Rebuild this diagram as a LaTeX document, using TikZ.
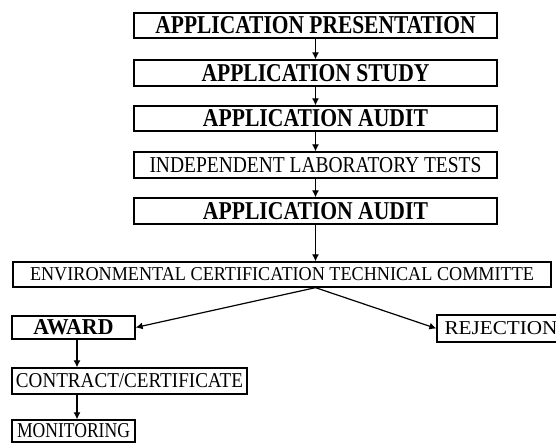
\documentclass[tikz,border=0pt]{standalone}
\usepackage{fontspec}
\setmainfont{Liberation Serif}
\usepackage{graphicx}
\usetikzlibrary{arrows.meta,positioning,calc}

% squeeze a label to the measured width and cap height
\newcommand{\fitlbl}[3]{\resizebox{#1pt}{#2pt}{#3}}

\tikzset{
  stage/.style={draw,line width=1.3pt,inner sep=0pt},
  flow/.style={line width=1.2pt,-{Latex[length=7pt,width=7pt]}}
}

\begin{document}
\begin{tikzpicture}[x=1pt,y=-1pt]
\useasboundingbox (0,0) rectangle (556,443);
% Application chain
\node[stage,minimum width=363pt,minimum height=25pt] (pres) at (315.5,25.5)
  {\fitlbl{320}{17}{\textbf{APPLICATION PRESENTATION}}};
\node[stage,minimum width=363pt,minimum height=26pt] (study) at (315.5,73)
  {\fitlbl{228}{17}{\textbf{APPLICATION STUDY}}};
\node[stage,minimum width=363pt,minimum height=25pt] (audita) at (315.5,118.5)
  {\fitlbl{225}{17}{\textbf{APPLICATION AUDIT}}};
\node[stage,minimum width=363pt,minimum height=26pt] (labtests) at (315.5,165)
  {\fitlbl{332}{15}{INDEPENDENT LABORATORY TESTS}};
\node[stage,minimum width=363pt,minimum height=26pt] (auditb) at (315.5,211)
  {\fitlbl{225}{17}{\textbf{APPLICATION AUDIT}}};
% Committee
\node[stage,minimum width=538pt,minimum height=25pt] (committee) at (282,274.5)
  {\fitlbl{504}{13}{ENVIRONMENTAL CERTIFICATION TECHNICAL COMMITTE}};
% Outcomes
\node[stage,minimum width=123pt,minimum height=23pt] (award) at (73.5,327.5)
  {\fitlbl{80}{15}{\textbf{AWARD}}};
\node[stage,minimum width=128pt,minimum height=27pt] (reject) at (501,328.5)
  {\fitlbl{113}{13}{REJECTION}};
\node[stage,minimum width=235pt,minimum height=26pt] (contract) at (129.5,381)
  {\fitlbl{227}{14}{CONTRACT/CERTIFICATE}};
\node[stage,minimum width=123pt,minimum height=22pt] (monitor) at (73.5,431)
  {\fitlbl{113}{14}{MONITORING}};
% Connectors
\draw[flow] (pres) -- (study);
\draw[flow] (study) -- (audita);
\draw[flow] (audita) -- (labtests);
\draw[flow] (labtests) -- (auditb);
\draw[flow] (auditb.south) -- (auditb.south |- committee.north);
\draw[flow] (committee.south -| auditb.south) -- (award.east);
\draw[flow] (committee.south -| auditb.south) -- (reject.west);
\draw[flow] ([xshift=3.5pt]award.south) -- ([xshift=3.5pt]award.south |- contract.north);
\draw[flow] ([xshift=3.5pt]award.south |- contract.south) -- ([xshift=3.5pt]award.south |- monitor.north);
\end{tikzpicture}
\end{document}
